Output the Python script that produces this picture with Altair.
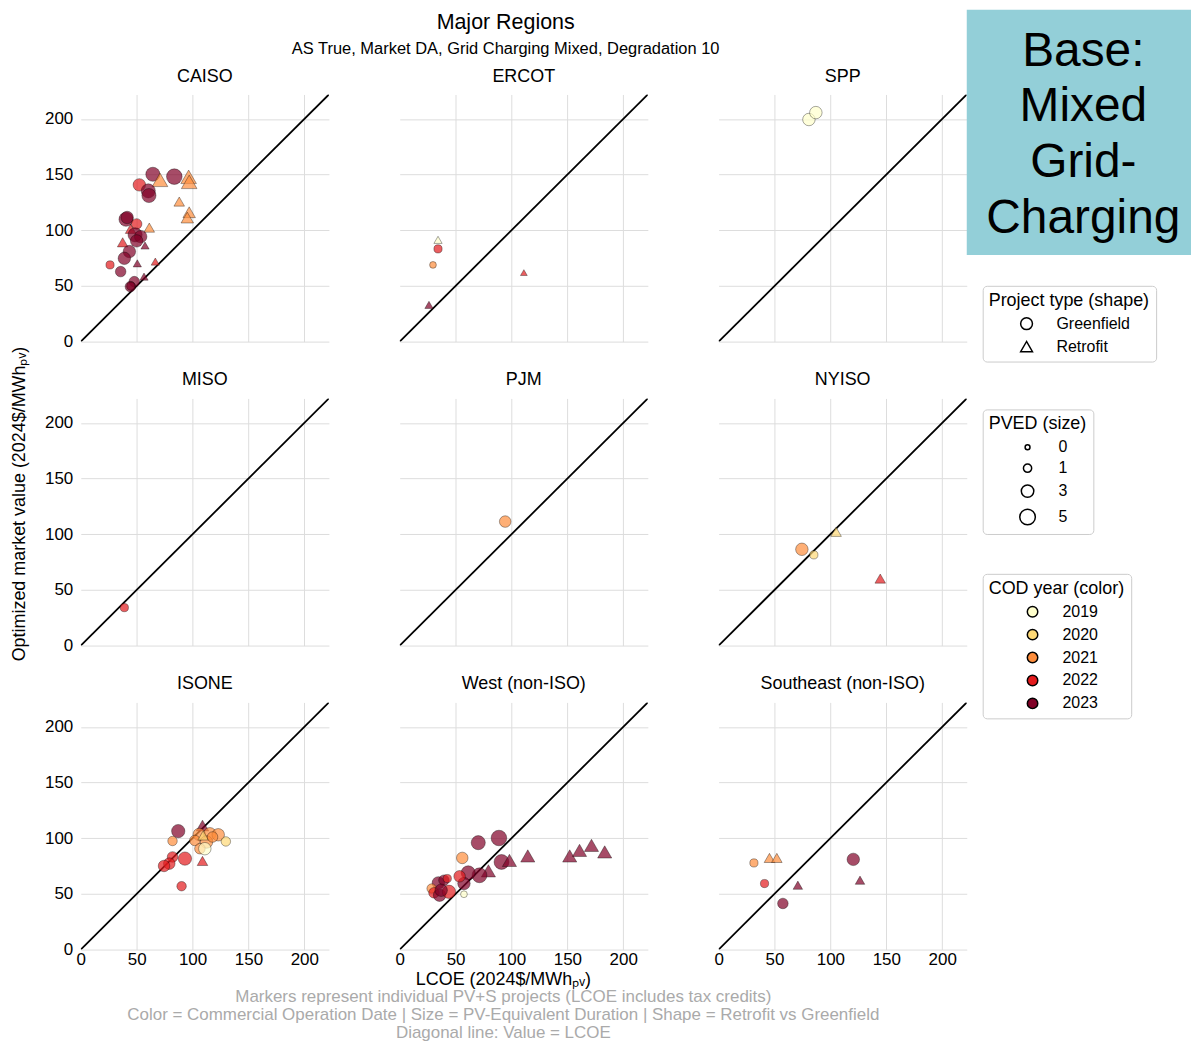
import altair as alt
import pandas as pd

FONT = "Liberation Sans"

regions_order = ["CAISO", "ERCOT", "SPP", "MISO", "PJM", "NYISO",
                 "ISONE", "West (non-ISO)", "Southeast (non-ISO)"]

# ---- project points -------------------------------------------------------
region = (["CAISO"] * 31 + ["ERCOT"] * 5 + ["SPP"] * 2 + ["MISO"] * 1 + ["PJM"] * 1
          + ["NYISO"] * 4 + ["ISONE"] * 19 + ["West (non-ISO)"] * 24
          + ["Southeast (non-ISO)"] * 8)

lcoe = [
    # CAISO
    64.5, 70.9, 83.7, 96.5, 97.0, 52.4, 60.4, 61.0, 88.1, 97.0, 95.3, 40.5, 41.5,
    50.0, 61.3, 44.6, 48.6, 53.6, 50.0, 57.5, 37.5, 43.5, 39.0, 50.6, 66.7, 26.2,
    35.7, 56.6, 47.9, 44.4, 44.8,
    # ERCOT
    34.3, 34.3, 29.8, 111.1, 26.2,
    # SPP
    80.8, 87.0,
    # MISO
    39.0,
    # PJM
    94.4,
    # NYISO
    74.5, 85.2, 105.1, 144.6,
    # ISONE
    87.2, 108.9, 82.1, 106.0, 115.5, 123.0, 102.1, 112.5, 106.6, 109.5, 111.0,
    129.8, 117.9, 108.9, 93.2, 82.1, 79.2, 74.5, 90.2,
    # West
    70.3, 88.8, 56.0, 91.1, 98.2, 114.6, 152.1, 160.9, 171.6, 183.4, 79.4, 71.4,
    61.3, 57.5, 53.6, 34.6, 39.6, 42.6, 28.6, 30.7, 35.7, 44.1, 37.1, 57.5,
    # Southeast
    31.6, 45.5, 52.1, 41.1, 57.5, 70.9, 120.5, 126.5,
]

market_value = [
    # CAISO
    150.3, 145.3, 148.2, 148.0, 143.5, 140.8, 135.4, 131.2, 125.8, 116.2, 111.4,
    109.9, 111.5, 105.7, 102.4, 101.3, 95.9, 94.3, 90.5, 86.3, 89.2, 80.9, 74.8,
    70.3, 71.9, 68.9, 62.9, 58.4, 53.9, 49.4, 49.8,
    # ERCOT
    91.4, 83.3, 68.9, 62.0, 33.0,
    # SPP
    199.5, 205.7,
    # MISO
    34.1,
    # PJM
    111.4,
    # NYISO
    86.5, 81.5, 102.2, 60.2,
    # ISONE
    106.4, 111.4, 97.5, 103.4, 104.0, 103.1, 98.0, 96.6, 90.6, 102.5, 90.6, 97.1,
    101.1, 79.6, 81.7, 83.2, 77.2, 75.1, 56.9,
    # West
    96.0, 100.2, 82.3, 78.7, 80.1, 84.1, 84.1, 89.1, 93.6, 87.7, 70.7, 66.7, 68.9,
    59.3, 65.8, 59.9, 62.3, 63.8, 54.8, 51.0, 48.8, 51.9, 53.3, 49.7,
    # Southeast
    77.8, 82.3, 82.3, 59.3, 41.4, 57.8, 81.0, 62.3,
]

cod_year = [
    # CAISO
    2023, 2021, 2023, 2021, 2021, 2022, 2023, 2023, 2021, 2021, 2021, 2023, 2023,
    2022, 2021, 2022, 2023, 2023, 2023, 2023, 2022, 2023, 2023, 2023, 2022, 2022,
    2023, 2023, 2023, 2023, 2023,
    # ERCOT
    2019, 2022, 2021, 2022, 2023,
    # SPP
    2019, 2019,
    # MISO
    2022,
    # PJM
    2021,
    # NYISO
    2021, 2020, 2020, 2022,
    # ISONE
    2023, 2023, 2021, 2021, 2021, 2021, 2021, 2021, 2021, 2020, 2019, 2020, 2021,
    2022, 2022, 2022, 2022, 2022, 2022,
    # West
    2023, 2023, 2021, 2023, 2023, 2023, 2023, 2023, 2023, 2023, 2023, 2023, 2023,
    2023, 2022, 2023, 2023, 2022, 2021, 2022, 2023, 2022, 2023, 2019,
    # Southeast
    2021, 2021, 2021, 2022, 2023, 2023, 2023, 2023,
]

pved = [
    # CAISO
    4, 5, 5, 5, 5, 3, 4, 4, 2, 3, 3, 4, 3, 2, 2, 2, 4, 3, 3, 1, 2, 3, 3, 1, 1, 1,
    2, 1, 2, 2, 1,
    # ERCOT
    1, 1, 0.5, 0.5, 1,
    # SPP
    3, 3,
    # MISO
    1,
    # PJM
    2.5,
    # NYISO
    3, 1, 2, 2,
    # ISONE
    3.5, 3, 1.5, 3, 3, 3, 2, 3, 2, 2, 3, 1.5, 2, 2, 3.5, 2, 2.5, 2.5, 1.5,
    # West
    4, 5, 2.5, 4.5, 4, 4, 4, 4, 4, 4, 4, 4.5, 4, 3, 2.5, 3, 2, 1, 1.5, 2, 3, 3.5,
    3, 0.5,
    # Southeast
    1, 2, 2, 1, 2, 1.5, 3, 1.5,
]

G, R = "Greenfield", "Retrofit"
project_type = [
    # CAISO
    G, R, G, R, R, G, G, G, R, R, R, G, G, G, R, R, G, G, G, R, R, G, G, R, R, G,
    G, R, G, G, G,
    # ERCOT
    R, G, G, R, R,
    # SPP
    G, G,
    # MISO
    G,
    # PJM
    G,
    # NYISO
    G, G, R, R,
    # ISONE
    G, R, G, G, G, G, G, G, G, R, G, G, G, R, G, G, G, G, G,
    # West
    G, G, G, G, R, R, R, R, R, R, R, G, G, G, G, G, G, G, G, G, G, G, G, G,
    # Southeast
    G, R, R, G, G, R, G, R,
]

year_domain = [2019, 2020, 2021, 2022, 2023]
year_colors = ["#ffffcc", "#fed976", "#fd8d3c", "#e31a1c", "#800026"]
type_domain = ["Greenfield", "Retrofit"]
type_shapes = ["circle", "triangle-up"]
pved_legend_values = [0, 1, 3, 5]
axis_ticks = [0, 50, 100, 150, 200]
axis_max = 222
diag_ends = [0, axis_max]

title_text = "Major Regions"
subtitle_text = "AS True, Market DA, Grid Charging Mixed, Degradation 10"
x_title = "LCOE (2024$/MWhₚᵥ)"
y_title = "Optimized market value (2024$/MWhₚᵥ)"
footnote_lines = [
    "Markers represent individual PV+S projects (LCOE includes tax credits)",
    "Color = Commercial Operation Date | Size = PV-Equivalent Duration | Shape = Retrofit vs Greenfield",
    "Diagonal line: Value = LCOE",
]
box_lines = ["Base:", "Mixed", "Grid-", "Charging"]

# ---- tables ------------------------------------------------------------------
pts = pd.DataFrame({
    "region": region, "lcoe": lcoe, "value": market_value, "year": cod_year,
    "pved": pved, "ptype": project_type, "kind": "pt",
})
line_rows = []
for r in regions_order:
    for d in diag_ends:
        line_rows.append({"region": r, "lcoe": d, "value": d, "kind": "line"})
df = pd.concat([pd.DataFrame(line_rows), pts], ignore_index=True)

PANEL_W, PANEL_H = 249, 248

x_enc = alt.X(
    "lcoe:Q",
    scale=alt.Scale(domain=[0, axis_max], nice=False, zero=False),
    axis=alt.Axis(values=axis_ticks, title=None, labelPadding=2,
                  gridOpacity={"condition": {"test": "datum.value === 0", "value": 0}, "value": 1}),
)
y_enc = alt.Y(
    "value:Q",
    scale=alt.Scale(domain=[0, axis_max], nice=False, zero=False),
    axis=alt.Axis(values=axis_ticks, title=None, labelPadding=8),
)

base = alt.Chart(df)

diag = base.transform_filter(alt.datum.kind == "line").mark_line(
    color="black", strokeWidth=1.8, clip=True
).encode(x=x_enc, y=y_enc)

legend_common = dict(
    orient="none", titleFontSize=18, labelFontSize=16, titleFontWeight="normal",
    titleColor="black", labelColor="black", titleFont=FONT, labelFont=FONT,
    strokeColor="#cccccc", cornerRadius=4, padding=6, fillColor="white",
    rowPadding=5, titlePadding=6,
)
LEG_X = 978

points = base.transform_filter(alt.datum.kind == "pt").mark_point(
    filled=True, fillOpacity=0.7, stroke="black", strokeWidth=0.5, strokeOpacity=0.7
).encode(
    x=x_enc,
    y=y_enc,
    color=alt.Color(
        "year:O",
        scale=alt.Scale(domain=year_domain, range=year_colors),
        legend=alt.Legend(title="COD year (color)", legendX=LEG_X, legendY=481,
                          symbolStrokeColor="black", symbolStrokeWidth=1.5,
                          symbolOpacity=1, symbolSize=110, symbolOffset=36,
                          labelOffset=22, **legend_common),
    ),
    shape=alt.Shape(
        "ptype:N",
        scale=alt.Scale(domain=type_domain, range=type_shapes),
        legend=alt.Legend(title="Project type (shape)", legendX=LEG_X, legendY=192,
                          symbolStrokeColor="black", symbolFillColor="white",
                          symbolStrokeWidth=1.5, symbolOpacity=1, symbolSize=140,
                          symbolOffset=30, labelOffset=22, **legend_common),
    ),
    size=alt.Size(
        "pved:Q",
        scale=alt.Scale(domain=[0, 5], range=[24, 245], zero=False),
        legend=alt.Legend(title="PVED (size)", values=pved_legend_values,
                          legendX=LEG_X, legendY=316,
                          symbolStrokeColor="black", symbolFillColor="white",
                          symbolStrokeWidth=1.5, symbolOpacity=1,
                          symbolOffset=30, labelOffset=22, **legend_common),
    ),
)

panel = alt.layer(diag, points).properties(width=PANEL_W, height=PANEL_H)

facet_chart = panel.facet(
    facet=alt.Facet("region:N", sort=regions_order,
                    header=alt.Header(title=None, labelFontSize=18, labelFont=FONT,
                                      labelColor="black", labelPadding=9)),
    columns=3,
    spacing={"column": 71, "row": 30},
).properties(
    title=alt.TitleParams(
        text=title_text, subtitle=subtitle_text, fontSize=21.5, subtitleFontSize=16.5,
        font=FONT, subtitleFont=FONT, fontWeight="normal", color="black",
        subtitleColor="black", anchor="middle", subtitlePadding=8, offset=10,
    )
)

one_row = pd.DataFrame({"k": [0]})

# y-axis title (shared by all panels)
ytitle_chart = alt.Chart(one_row).mark_text(
    angle=270, fontSize=18, font=FONT, color="black", align="center", baseline="middle"
).encode(x=alt.value(12), y=alt.value(411), text=alt.value(y_title)).properties(
    width=36, height=854
)

# "Base: Mixed Grid-Charging" box
box_w = 214
box_rect = alt.Chart(one_row).mark_rect(color="#93cfd8").encode(
    x=alt.value(-11), x2=alt.value(box_w), y=alt.value(-85), y2=alt.value(161)
)
box_text = alt.Chart(one_row).mark_text(
    fontSize=48, font=FONT, color="black", lineHeight=56, align="center",
    baseline="top"
).encode(x=alt.value(106), y=alt.value(-67), text=alt.value(box_lines))
box = alt.layer(box_rect, box_text).properties(width=box_w, height=150)

# shared x-axis title and footnote
bottom_w = 1150
xtitle_text = alt.Chart(one_row).mark_text(
    fontSize=18, font=FONT, color="black", align="center", baseline="middle"
).encode(x=alt.value(497), y=alt.value(13), text=alt.value(x_title))
foot_text = alt.Chart(one_row).mark_text(
    fontSize=17, font=FONT, color="#aaaaaa", align="center", baseline="top",
    lineHeight=18
).encode(x=alt.value(497), y=alt.value(22), text=alt.value(footnote_lines))
bottom = alt.layer(xtitle_text, foot_text).properties(width=bottom_w, height=70)

chart = alt.vconcat(
    alt.hconcat(ytitle_chart, facet_chart, box, spacing=0),
    bottom,
    spacing=0,
).properties(padding=0).configure_view(stroke=None).configure_axis(
    labelFont=FONT, titleFont=FONT, labelFontSize=17, titleFontSize=18,
    labelColor="black", titleColor="black", titleFontWeight="normal",
    ticks=False, domain=False, gridColor="#dddddd", gridWidth=1, labelFlush=False,
)

chart.save("out.html", embed_options={"renderer": "svg", "actions": False})
